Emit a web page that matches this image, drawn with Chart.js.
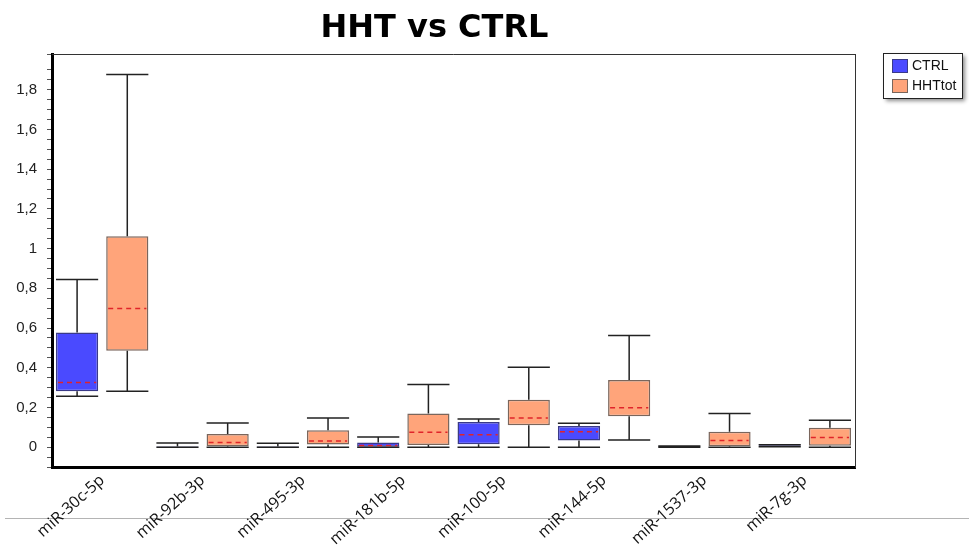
<!DOCTYPE html>
<html>
<head>
<meta charset="utf-8">
<title>HHT vs CTRL</title>
<script src="https://cdn.jsdelivr.net/npm/chart.js@4.4.1/dist/chart.umd.min.js"></script>
<style>
  html, body { margin: 0; padding: 0; background: #fff; }
  #wrap { width: 969px; height: 546px; }
</style>
</head>
<body>
<div id="wrap"><canvas id="myChart" width="969" height="546"></canvas></div>
<script>
var mirnas = ['miR-30c-5p', 'miR-92b-3p', 'miR-495-3p', 'miR-181b-5p', 'miR-100-5p', 'miR-144-5p', 'miR-1537-3p', 'miR-7g-3p'];

// CTRL box plot stats
var ctrlMin = [0.256, 0, 0, 0, 0, 0, 0, 0.002];
var ctrlQ1  = [0.281, 0, 0, 0, 0.014, 0.034, 0.001, 0.004];
var ctrlMed = [0.326, 0.002, 0.002, 0.008, 0.063, 0.077, 0.002, 0.006];
var ctrlQ3  = [0.578, 0.004, 0.004, 0.024, 0.127, 0.107, 0.004, 0.009];
var ctrlMax = [0.844, 0.021, 0.020, 0.051, 0.142, 0.120, 0.006, 0.012];

// HHTtot box plot stats
var hhtMin = [0.281, 0, 0, 0, 0, 0.036, 0, 0];
var hhtQ1  = [0.486, 0.004, 0.013, 0.011, 0.110, 0.155, 0.004, 0.007];
var hhtMed = [0.698, 0.024, 0.031, 0.075, 0.147, 0.199, 0.034, 0.049];
var hhtQ3  = [1.062, 0.066, 0.085, 0.169, 0.239, 0.338, 0.078, 0.098];
var hhtMax = [1.877, 0.122, 0.147, 0.316, 0.402, 0.562, 0.170, 0.135];

var yTicks = [0, 0.2, 0.4, 0.6, 0.8, 1, 1.2, 1.4, 1.6, 1.8];

function boxes(q1, q3) {
	var out = [];
	for (var i = 0; i < q1.length; i++) out.push([q1[i], q3[i]]);
	return out;
}

var stats = [
	{ min: ctrlMin, med: ctrlMed, q1: ctrlQ1, q3: ctrlQ3, max: ctrlMax },
	{ min: hhtMin, med: hhtMed, q1: hhtQ1, q3: hhtQ3, max: hhtMax }
];

// whiskers + dashed medians on top of the floating bars
var whiskers = {
	id: 'whiskers',
	afterDatasetsDraw: function(chart) {
		var ctx = chart.ctx;
		var y = chart.scales.y;
		ctx.save();
		chart.data.datasets.forEach(function(ds, d) {
			var meta = chart.getDatasetMeta(d);
			var s = stats[d];
			meta.data.forEach(function(bar, i) {
				var x = bar.x, hw = bar.width / 2;
				var pMin = y.getPixelForValue(s.min[i]);
				var pMax = y.getPixelForValue(s.max[i]);
				var pQ1 = y.getPixelForValue(s.q1[i]);
				var pQ3 = y.getPixelForValue(s.q3[i]);
				var pMed = y.getPixelForValue(s.med[i]);
				ctx.strokeStyle = '#222';
				ctx.lineWidth = 1.5;
				ctx.setLineDash([]);
				ctx.beginPath();
				ctx.moveTo(x, pQ3); ctx.lineTo(x, pMax);
				ctx.moveTo(x, pQ1); ctx.lineTo(x, pMin);
				ctx.moveTo(x - hw, pMax); ctx.lineTo(x + hw, pMax);
				ctx.moveTo(x - hw, pMin); ctx.lineTo(x + hw, pMin);
				ctx.stroke();
				if (pQ1 - pQ3 > 3) {
					ctx.strokeStyle = '#e0242a';
					ctx.setLineDash([5, 4]);
					ctx.beginPath();
					ctx.moveTo(x - hw + 2, pMed); ctx.lineTo(x + hw - 2, pMed);
					ctx.stroke();
				}
			});
		});
		ctx.restore();
	}
};

// frame top line, page rule and legend box
var decor = {
	id: 'decor',
	beforeDraw: function(chart) {
		var ctx = chart.ctx;
		ctx.save();
		ctx.fillStyle = '#fff';
		ctx.fillRect(0, 0, chart.width, chart.height);
		ctx.strokeStyle = '#b4b4b4';
		ctx.lineWidth = 1;
		ctx.beginPath();
		ctx.moveTo(5, 518.5); ctx.lineTo(chart.width, 518.5);
		ctx.stroke();
		ctx.restore();
	},
	afterDraw: function(chart) {
		var ctx = chart.ctx;
		var a = chart.chartArea;
		ctx.save();
		ctx.strokeStyle = '#333';
		ctx.lineWidth = 1;
		ctx.beginPath();
		ctx.moveTo(a.left, a.top + 0.5); ctx.lineTo(a.right + 0.5, a.top + 0.5);
		ctx.stroke();

		var lx = 883, ly = 53, lw = 79, lh = 45;
		ctx.shadowColor = 'rgba(0,0,0,0.45)';
		ctx.shadowBlur = 4;
		ctx.shadowOffsetX = 3;
		ctx.shadowOffsetY = 3;
		ctx.fillStyle = '#fff';
		ctx.fillRect(lx, ly, lw, lh);
		ctx.shadowColor = 'transparent';
		ctx.strokeStyle = '#222';
		ctx.strokeRect(lx + 0.5, ly + 0.5, lw, lh);
		ctx.font = '14px "Liberation Sans", Arial, sans-serif';
		ctx.textBaseline = 'middle';
		chart.data.datasets.forEach(function(ds, i) {
			var yy = ly + 6 + i * 20;
			ctx.fillStyle = ds.backgroundColor;
			ctx.fillRect(lx + 9, yy, 16, 14);
			ctx.strokeStyle = ds.borderColor;
			ctx.strokeRect(lx + 9.5, yy + 0.5, 15, 13);
			ctx.fillStyle = '#111';
			ctx.fillText(ds.label, lx + 29, yy + 7);
		});
		ctx.restore();
	}
};

var ctx = document.getElementById('myChart').getContext('2d');
var myChart = new Chart(ctx, {
	type: 'bar',
	data: {
		labels: mirnas,
		datasets: [{
			label: 'CTRL',
			data: boxes(ctrlQ1, ctrlQ3),
			backgroundColor: '#4a4aff',
			borderColor: '#3a3a88',
			borderWidth: 1.5,
			borderSkipped: false
		}, {
			label: 'HHTtot',
			data: boxes(hhtQ1, hhtQ3),
			backgroundColor: '#ffa47a',
			borderColor: '#7a665c',
			borderWidth: 1.5,
			borderSkipped: false
		}]
	},
	options: {
		responsive: false,
		animation: false,
		categoryPercentage: 1.0,
		barPercentage: 0.84,
		layout: { padding: { left: 0, right: 100, top: 0, bottom: 0 } },
		plugins: {
			legend: { display: false },
			tooltip: { enabled: false },
			title: {
				display: true,
				text: 'HHT vs CTRL',
				color: '#000',
				font: { family: '"DejaVu Sans", sans-serif', size: 32, weight: 'bold' },
				padding: { top: 9, bottom: 6.6 }
			}
		},
		scales: {
			x: {
				grid: { display: true, drawOnChartArea: false, drawTicks: false },
				border: { display: true, color: '#000', width: 3 },
				ticks: {
					color: '#111',
					font: { family: '"Open Sans", sans-serif', size: 16 },
					maxRotation: 42,
					minRotation: 42,
					padding: 4,
					autoSkip: false
				},
				afterFit: function(scale) { scale.height = 79; }
			},
			y: {
				min: -0.1,
				max: 1.98,
				grid: { display: true, drawOnChartArea: false, tickLength: 5, tickColor: '#555' },
				border: { display: true, color: '#000', width: 3 },
				ticks: {
					stepSize: 0.05,
					autoSkip: false,
					color: '#222',
					padding: 10,
					font: { family: '"Liberation Sans", Arial, sans-serif', size: 15 },
					callback: function(v) {
						for (var i = 0; i < yTicks.length; i++) {
							if (Math.abs(v - yTicks[i]) < 1e-6) return String(yTicks[i]).replace('.', ',');
						}
						return '';
					}
				},
				afterFit: function(scale) { scale.width = 52; }
			},
			yR: {
				type: 'linear',
				position: 'right',
				grid: { display: false },
				ticks: { display: false },
				border: { display: true, color: '#333', width: 1 },
				afterFit: function(scale) { scale.width = 14; }
			}
		}
	},
	plugins: [decor, whiskers]
});
</script>
</body>
</html>
